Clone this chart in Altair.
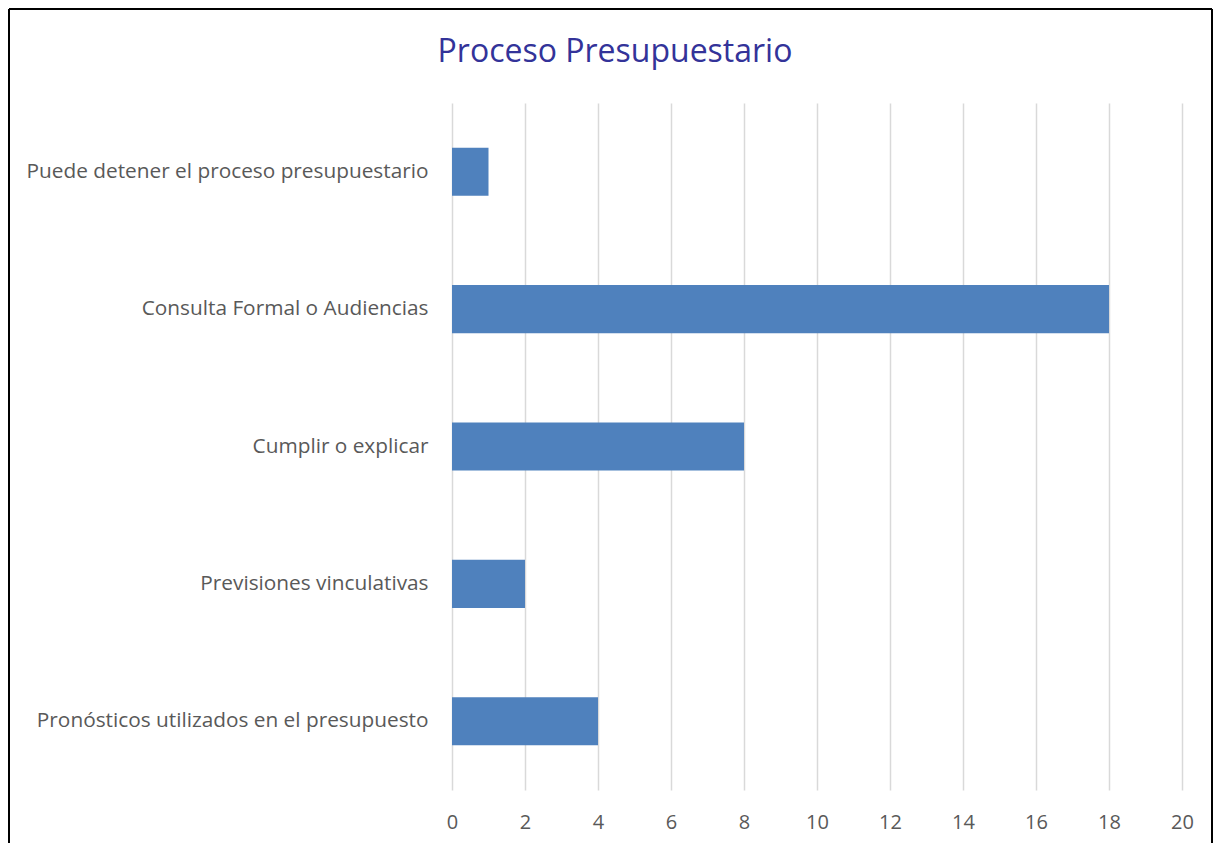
import altair as alt
import pandas as pd

categories = [
    "Puede detener el proceso presupuestario",
    "Consulta Formal o Audiencias",
    "Cumplir o explicar",
    "Previsiones vinculativas",
    "Pronósticos utilizados en el presupuesto",
]
values = [1, 18, 8, 2, 4]
x_ticks = [0, 2, 4, 6, 8, 10, 12, 14, 16, 18, 20]
title_text = ["Proceso Presupuestario"]

df = pd.DataFrame({"cat": categories, "val": values})

FONT = "Open Sans"
W, H = 730, 687

bars = alt.Chart(df).mark_bar(color="#4F81BD").encode(
    x=alt.X("val:Q", scale=alt.Scale(domain=[0, 20], nice=False),
            axis=alt.Axis(values=x_ticks, title=None, domain=False, ticks=False,
                          grid=True, gridColor="#D9D9D9", gridWidth=1.5,
                          labelFontSize=20, labelColor="#595959", labelFont=FONT,
                          labelPadding=22, labelFlush=False)),
    y=alt.Y("cat:N", sort=categories,
            scale=alt.Scale(paddingInner=0.65, paddingOuter=0.325),
            axis=alt.Axis(title=None, domain=False, ticks=False, grid=False,
                          labelFontSize=20.8, labelColor="#595959", labelFont=FONT,
                          labelPadding=24, labelLimit=500)),
)

title = alt.Chart(pd.DataFrame({"t": title_text})).mark_text(
    font=FONT, fontSize=32, color="#333399", align="center", baseline="middle"
).encode(text="t:N", x=alt.value(163), y=alt.value(-51))

border_df = pd.DataFrame({"k": [0]})
left = alt.Chart(border_df).mark_rule(color="black", strokeWidth=2).encode(
    x=alt.value(-443), y=alt.value(-94), y2=alt.value(H + 60))
top = alt.Chart(border_df).mark_rule(color="black", strokeWidth=2).encode(
    x=alt.value(-443), x2=alt.value(W + 30), y=alt.value(-94))
right = alt.Chart(border_df).mark_rule(color="black", strokeWidth=2).encode(
    x=alt.value(W + 30), y=alt.value(-94), y2=alt.value(H + 60))

chart = alt.layer(bars, title, left, top, right).properties(
    width=W, height=H,
    autosize=alt.AutoSizeParams(type="none"),
    padding={"left": 444, "top": 95, "right": 31, "bottom": 53},
).configure_view(stroke=None)

chart.save("out.html", embed_options={"renderer": "svg", "actions": False})
